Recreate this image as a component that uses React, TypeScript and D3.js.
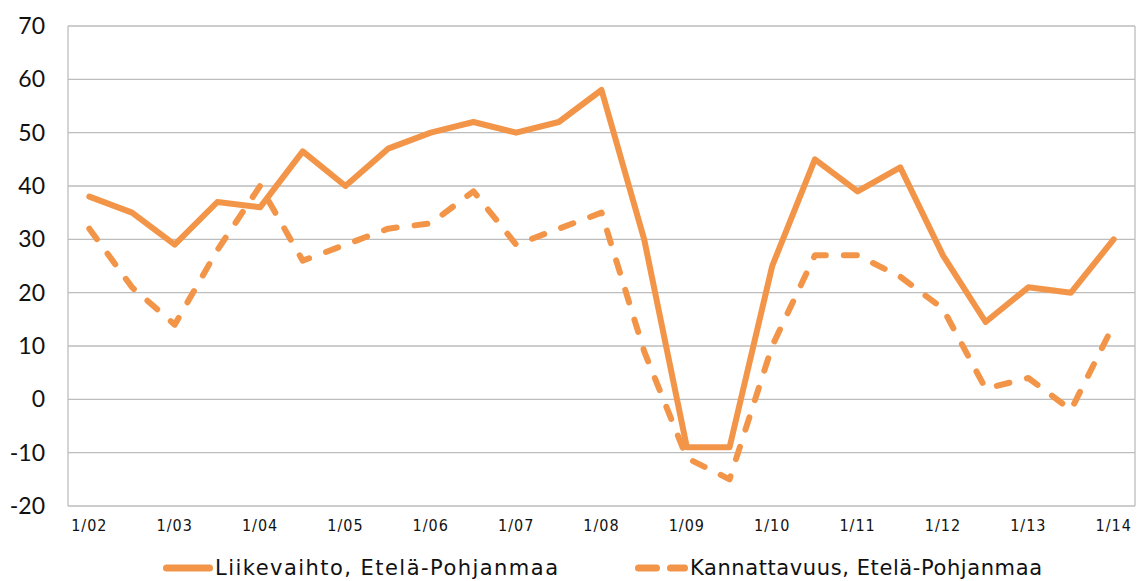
import React from "react";
import * as d3 from "d3";

// half-year periods, Jan and Jul of each year
const periods = [
  "1/02", "7/02", "1/03", "7/03", "1/04", "7/04", "1/05", "7/05", "1/06",
  "7/06", "1/07", "7/07", "1/08", "7/08", "1/09", "7/09", "1/10", "7/10",
  "1/11", "7/11", "1/12", "7/12", "1/13", "7/13", "1/14",
];

// Liikevaihto (solid)
const turnover = [
  38, 35, 29, 37, 36, 46.5, 40, 47, 50, 52, 50, 52, 58, 30, -9, -9, 25, 45,
  39, 43.5, 27, 14.5, 21, 20, 30,
];

// Kannattavuus (dashed)
const profitability = [
  32, 21, 14, 28, 40, 26, 29, 32, 33, 39, 29, 32, 35, 9, -11, -15, 10, 27,
  27, 23, 17, 2, 4, -2, 14,
];

const yTicks = [-20, -10, 0, 10, 20, 30, 40, 50, 60, 70];
const seriesNames = ["Liikevaihto, Etelä-Pohjanmaa", "Kannattavuus, Etelä-Pohjanmaa"];

const W = 1146;
const H = 581;
const margin = { top: 26, right: 11, bottom: 75, left: 68 };
const orange = "#f39549";
const grid = "#bdbdbd";
const dash = "13,18";

export default function App() {
  const x = d3
    .scaleBand<string>()
    .domain(periods)
    .range([margin.left, W - margin.right]);
  const cx = (p: string) => (x(p) as number) + x.bandwidth() / 2;

  const y = d3
    .scaleLinear()
    .domain([-20, 70])
    .range([H - margin.bottom, margin.top]);

  const line = d3
    .line<number>()
    .x((_, i) => cx(periods[i]))
    .y((d) => y(d));

  const left = margin.left;
  const right = W - margin.right;

  return (
    <svg
      width={W}
      height={H}
      style={{ position: "absolute", left: 0, top: 0, background: "#fff" }}
    >
      {/* gridlines */}
      {yTicks.map((t) => (
        <line
          key={t}
          x1={left}
          x2={right}
          y1={y(t)}
          y2={y(t)}
          stroke={grid}
          strokeWidth={1.3}
        />
      ))}
      {/* frame */}
      <line x1={left} x2={left} y1={y(70)} y2={y(-20)} stroke={grid} strokeWidth={1.3} />
      <line x1={right} x2={right} y1={y(70)} y2={y(-20)} stroke={grid} strokeWidth={1.3} />

      {/* y labels */}
      {yTicks.map((t) => (
        <text
          key={t}
          x={45}
          y={y(t)}
          dy="0.35em"
          textAnchor="end"
          fontFamily="Lato, 'Open Sans', sans-serif"
          fontSize={23}
          fill="#111"
        >
          {t}
        </text>
      ))}

      {/* x labels, January only */}
      {periods
        .filter((p) => p.startsWith("1/"))
        .map((p) => (
          <text
            key={p}
            x={cx(p)}
            y={531}
            textAnchor="middle"
            fontFamily="'DejaVu Sans Condensed', 'DejaVu Sans', sans-serif"
            fontSize={16}
            letterSpacing={1}
            fill="#111"
          >
            {p}
          </text>
        ))}

      {/* series */}
      <path
        d={line(turnover) || ""}
        fill="none"
        stroke={orange}
        strokeWidth={6}
        strokeLinejoin="round"
        strokeLinecap="round"
      />
      <path
        d={line(profitability) || ""}
        fill="none"
        stroke={orange}
        strokeWidth={6}
        strokeLinejoin="round"
        strokeLinecap="round"
        strokeDasharray={dash}
      />

      {/* legend */}
      <g fontFamily="'DejaVu Sans', sans-serif" fontSize={21} fill="#111">
        <line x1={166.5} x2={209.5} y1={568} y2={568} stroke={orange} strokeWidth={7} strokeLinecap="round" />
        <text x={215} y={575} textLength={343} lengthAdjust="spacing">
          {seriesNames[0]}
        </text>
        <line
          x1={638.5}
          x2={684.5}
          y1={568}
          y2={568}
          stroke={orange}
          strokeWidth={7}
          strokeLinecap="round"
          strokeDasharray="18,14"
        />
        <text x={690} y={575} textLength={352} lengthAdjust="spacing">
          {seriesNames[1]}
        </text>
      </g>
    </svg>
  );
}
